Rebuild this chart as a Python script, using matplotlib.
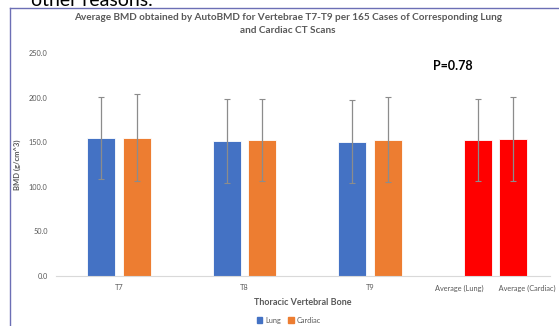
import numpy as np
import matplotlib.pyplot as plt
from matplotlib.patches import Patch

categories = ["T7", "T8", "T9", "Average (Lung)        Average (Cardiac)"]
lung_bmd = [155.0, 151.5, 150.5, 152.5]
cardiac_bmd = [155.0, 152.5, 153.0, 153.5]
lung_sd = [46.0, 47.0, 46.5, 46.0]
cardiac_sd = [48.5, 46.0, 47.5, 47.0]

blue = "#4472C4"
orange = "#ED7D31"
red = "#FF0000"
gray = "#595959"

plt.rcParams["font.family"] = ["Lato", "DejaVu Sans"]

fig = plt.figure(figsize=(5.59, 3.26), dpi=100)
ax = fig.add_axes([0.1002, 0.1534, 0.8836, 0.684])

x = np.arange(len(categories))
w = 0.223
off = 0.143
lung_colors = [blue] * 3 + [red]
card_colors = [orange] * 3 + [red]
ax.bar(x - off, lung_bmd, w, color=lung_colors, edgecolor="white", linewidth=0.6)
ax.bar(x + off, cardiac_bmd, w, color=card_colors, edgecolor="white", linewidth=0.6)
ax.errorbar(x - off, lung_bmd, yerr=lung_sd, fmt="none", ecolor="#8c8c8c",
            elinewidth=0.9, capsize=2, capthick=0.8)
ax.errorbar(x + off, cardiac_bmd, yerr=cardiac_sd, fmt="none", ecolor="#8c8c8c",
            elinewidth=0.9, capsize=2, capthick=0.8)

ax.set_xlim(-0.502, 3.434)
ax.set_ylim(0, 250)
ax.set_yticks(np.arange(0, 251, 50))
ax.set_yticklabels(["%.1f" % v for v in np.arange(0, 251, 50)])
ax.set_xticks(x)
ax.set_xticklabels(categories)
ax.tick_params(axis="both", length=0, labelsize=5.3, labelcolor=gray, pad=6)
for s in ["top", "right", "left"]:
    ax.spines[s].set_visible(False)
ax.spines["bottom"].set_color("#d9d9d9")
ax.spines["bottom"].set_linewidth(0.8)

ax.set_xlabel("Thoracic Vertebral Bone", fontsize=6.5, fontweight="bold", color=gray, labelpad=5)
ax.set_ylabel("BMD (g/cm^3)", fontsize=5.5, fontweight="bold", color=gray, labelpad=6)

fig.text(0.515, 0.927, "Average BMD obtained by AutoBMD for Vertebrae T7-T9 per 165 Cases of Corresponding Lung\nand Cardiac CT Scans",
         ha="center", va="center", fontsize=7.2, fontweight="bold", color=gray, linespacing=1.6)
fig.text(0.775, 0.797, "P=0.78", ha="left", va="center", fontsize=9, fontweight="bold", color="black")

handles = [Patch(color=blue, label="Lung"), Patch(color=orange, label="Cardiac")]
fig.legend(handles=handles, loc="center", bbox_to_anchor=(0.517, 0.018), ncol=2, frameon=False,
           fontsize=5.3, labelcolor=gray, handlelength=0.7, handleheight=0.7, handletextpad=0.4,
           columnspacing=1.0)

# chart frame and cut-off text above it
fig.add_artist(plt.Line2D([0.018, 0.018], [0, 0.975], color="#6c6fb5", linewidth=1.0))
fig.add_artist(plt.Line2D([0.018, 1.0], [0.975, 0.975], color="#6c6fb5", linewidth=1.0))
fig.text(0.055, 1.0, "other reasons.", ha="left", va="center", fontsize=14, color="black")

fig.savefig("out.png", dpi=100)
